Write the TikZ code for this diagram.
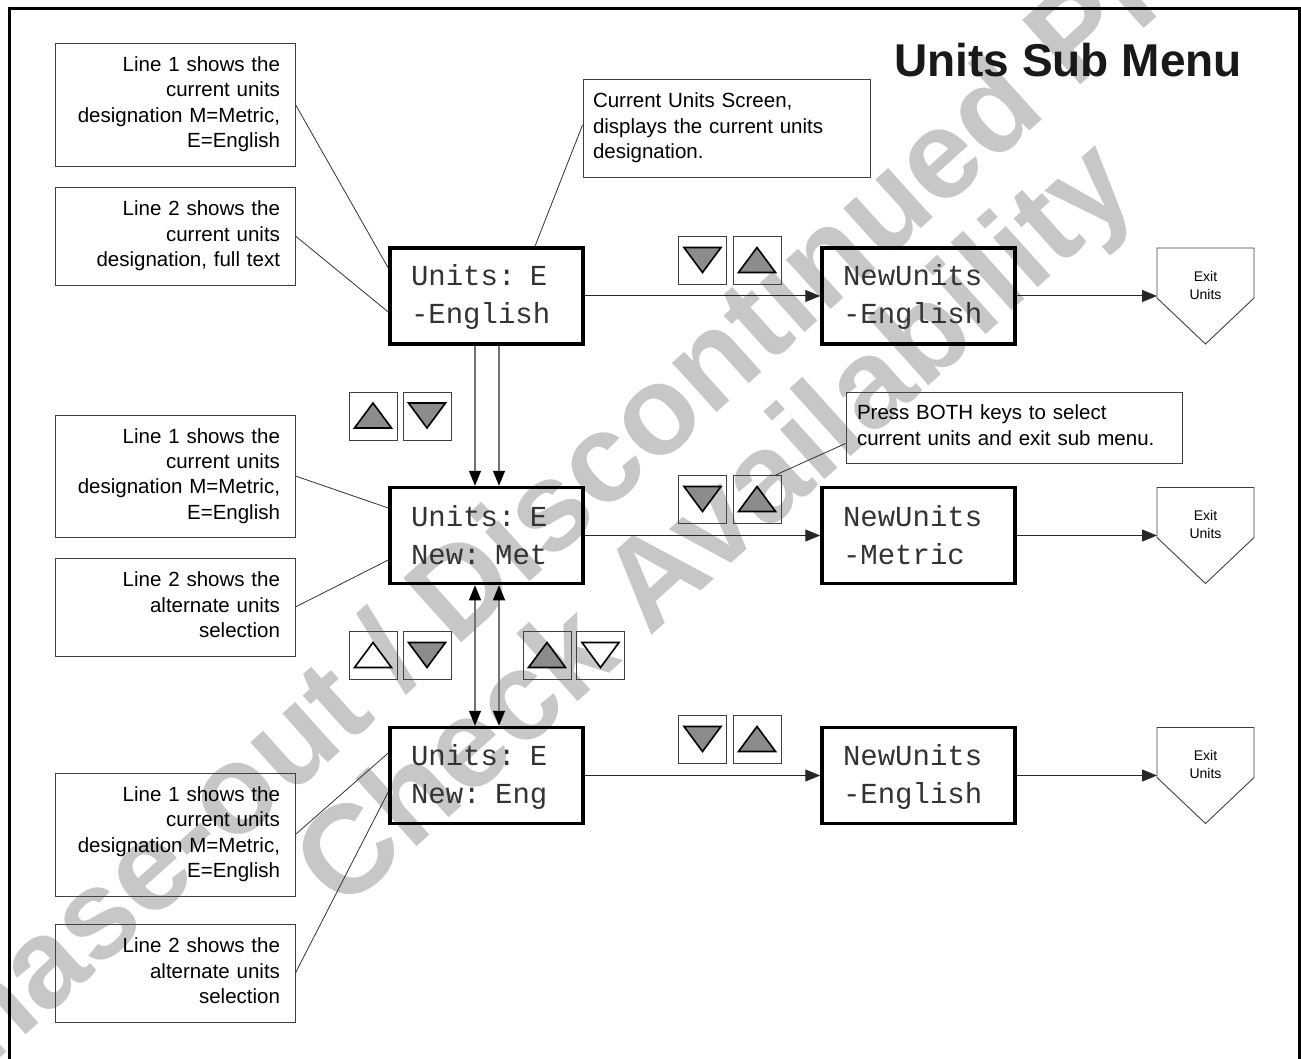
\documentclass[tikz,border=0pt]{standalone}
\usepackage{fontspec}
\setmainfont{Liberation Sans}
\newfontfamily\lcdfont{Liberation Mono}
\usetikzlibrary{arrows.meta}
\newcommand\ls{\rule[-4pt]{0pt}{28pt}}
\newcommand\upkey[3]{\node[keybox] (#1) at (#2) {};
 \draw[tri,fill=#3] ([shift={(0,-13)}]#1.center) -- ([shift={(18.5,12)}]#1.center) -- ([shift={(-18.5,12)}]#1.center) -- cycle;}
\newcommand\downkey[3]{\node[keybox] (#1) at (#2) {};
 \draw[tri,fill=#3] ([shift={(0,12)}]#1.center) -- ([shift={(18.5,-13)}]#1.center) -- ([shift={(-18.5,-13)}]#1.center) -- cycle;}
\newcommand\exitbox[2]{\node[minimum width=97pt, minimum height=96pt, inner sep=0pt, outer sep=0pt] (#1) at (#2) {};
 \draw[thinbox] (#1.north west) -- (#1.north east) -- ([yshift=-50pt]#1.north east) -- (#1.south) -- ([yshift=-50pt]#1.north west) -- cycle;
 \node[font=\fontsize{14}{18}\selectfont, align=center, inner sep=0pt] (#1t) at ([yshift=11pt]#1.center) {Exit\\Units};}
\begin{document}
\begin{tikzpicture}[x=1pt,y=-1pt,
  thinbox/.style={draw=black!75, line width=0.9pt},
  callout/.style={thinbox, inner xsep=15pt, inner ysep=0pt, text width=210pt, align=right,
    font=\fontsize{20.5}{25.3}\selectfont},
  note/.style={thinbox, inner ysep=0pt, align=left, font=\fontsize{20.5}{25.3}\selectfont},
  lcd/.style={draw=black, line width=3.5pt, minimum width=193pt, minimum height=96pt,
    inner xsep=21pt, inner ysep=0pt, text width=151pt, align=left, text=black!80,
    font=\lcdfont\fontsize{29}{38}\selectfont},
  keybox/.style={draw=black!75, line width=0.8pt, minimum size=48pt, inner sep=0pt},
  tri/.style={draw=black, line width=1.6pt, line join=miter},
  leader/.style={draw=black!80, line width=0.8pt},
  conn/.style={draw=black!85, line width=1pt, -{Triangle[length=15pt,width=12pt]}},
  vconn/.style={draw=black!55, line width=1.2pt},
  tip/.tip={Triangle[length=15pt,width=12pt,color=black]}
]
\useasboundingbox (0,0) rectangle (1301,1059);
\begin{scope}
\clip (0,0) rectangle (1301,1059);
\node[rotate=42, text=black!22, font=\bfseries\fontsize{126}{130}\selectfont, inner sep=0pt] (wm1) at (647,416) {Phase-out / Discontinued Product};
\node[rotate=42, text=black!22, font=\bfseries\fontsize{126}{130}\selectfont, inner sep=0pt] (wm2) at (720,530) {Check Availability};
\draw[line width=3pt] (9,9) rectangle (1299.5,1080);
\end{scope}

\node[anchor=base east, font=\bfseries\fontsize{46}{50}\selectfont, text=black!90, inner sep=0pt] (title) at (1242,77) {Units Sub Menu};

% callouts
\node[callout, minimum height=123pt] (a1) at (175,104.5) {\strut Line 1 shows the\\\strut current units\\\strut designation M=Metric,\\\strut E=English};
\node[callout, minimum height=98pt] (a2) at (175,236) {\strut Line 2 shows the\\\strut current units\\\strut designation, full text};
\node[callout, minimum height=122pt] (b1) at (175,476) {\strut Line 1 shows the\\\strut current units\\\strut designation M=Metric,\\\strut E=English};
\node[callout, minimum height=98pt] (b2) at (175,607) {\strut Line 2 shows the\\\strut alternate units\\\strut selection};
\node[callout, minimum height=123pt] (c1) at (175,834.5) {\strut Line 1 shows the\\\strut current units\\\strut designation M=Metric,\\\strut E=English};
\node[callout, minimum height=98pt] (c2) at (175,973) {\strut Line 2 shows the\\\strut alternate units\\\strut selection};
\node[note, minimum height=98pt, inner xsep=10pt, text width=267pt] (cur) at (726.5,128) {\strut Current Units Screen,\\\strut displays the current units\\\strut designation.};
\node[note, minimum height=71pt, inner xsep=11pt, text width=314pt] (press) at (1014,427.5) {\strut Press BOTH keys to select\\\strut current units and exit sub menu.};

% LCD screens
\node[lcd] (lcd1) at (486.5,296) {\ls Units: E\\\ls -English};
\node[lcd] (lcd2) at (486.5,535.5) {\ls Units: E\\\ls New: Met};
\node[lcd] (lcd3) at (486.5,775.5) {\ls Units: E\\\ls New: Eng};
\node[lcd] (nu1) at (918.5,296) {\ls NewUnits\\\ls -English};
\node[lcd] (nu2) at (918.5,535.5) {\ls NewUnits\\\ls -Metric};
\node[lcd] (nu3) at (918.5,775.5) {\ls NewUnits\\\ls -English};

% exits
\exitbox{x1}{1205.5,296}
\exitbox{x2}{1205.5,535.5}
\exitbox{x3}{1205.5,775.5}

% keys
\downkey{k1a}{702.5,260.5}{black!45}
\upkey{k1b}{757,260.5}{black!45}
\upkey{k2a}{373,416}{black!45}
\downkey{k2b}{427,416}{black!45}
\downkey{k3a}{702.5,499.5}{black!45}
\upkey{k3b}{757,499.5}{black!45}
\upkey{k4a}{373,655.5}{white}
\downkey{k4b}{427,655.5}{black!45}
\upkey{k4c}{547,655.5}{black!45}
\downkey{k4d}{600.5,655.5}{white}
\downkey{k5a}{702.5,739.5}{black!45}
\upkey{k5b}{757,739.5}{black!45}

% leaders
\draw[leader] (a1.east) -- ([yshift=28pt]lcd1.west);
\draw[leader] (a2.east) -- ([yshift=-16pt]lcd1.west);
\draw[leader] ([yshift=3pt]cur.west) -- ([xshift=48.5pt]lcd1.north);
\draw[leader] (b1.east) -- ([yshift=27.5pt]lcd2.west);
\draw[leader] (b2.east) -- ([yshift=-24.5pt]lcd2.west);
\draw[leader] (c1.east) -- ([yshift=22.5pt]lcd3.west);
\draw[leader] (c2.east) -- ([yshift=-16.5pt]lcd3.west);
\draw[leader] ([yshift=-16pt]press.west) -- ([xshift=-6pt]k3b.north east);

% connectors
\draw[conn] (lcd1.east) -- (nu1.west);
\draw[conn] (nu1.east) -- (x1.west);
\draw[conn] (lcd2.east) -- (nu2.west);
\draw[conn] (nu2.east) -- (x2.west);
\draw[conn] (lcd3.east) -- (nu3.west);
\draw[conn] (nu3.east) -- (x3.west);
\draw[vconn,-tip] ([xshift=-11.5pt]lcd1.south) -- ([xshift=-11.5pt]lcd2.north);
\draw[vconn,-tip] ([xshift=12.5pt]lcd1.south) -- ([xshift=12.5pt]lcd2.north);
\draw[vconn,tip-tip] ([xshift=-11.5pt]lcd2.south) -- ([xshift=-11.5pt]lcd3.north);
\draw[vconn,tip-tip] ([xshift=12.5pt]lcd2.south) -- ([xshift=12.5pt]lcd3.north);
\end{tikzpicture}
\end{document}
